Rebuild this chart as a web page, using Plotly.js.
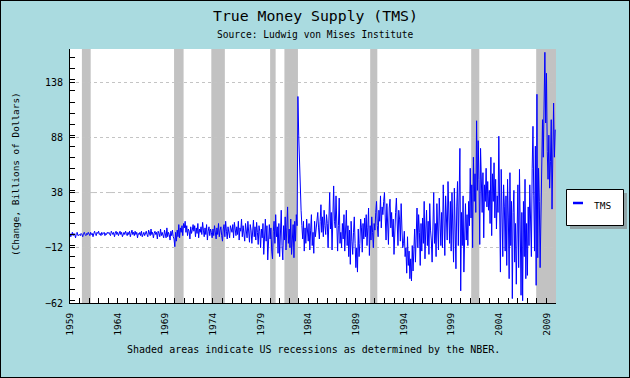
<!DOCTYPE html>
<html><head><meta charset="utf-8">
<script src="https://cdn.plot.ly/plotly-3.0.1.min.js"></script>
<style>
html,body{margin:0;padding:0;background:#aadbe0;}
#frame{width:630px;height:378px;box-sizing:border-box;border:1px solid #000;}
#chart{width:628px;height:376px;}
</style></head>
<body><div id="frame"><div id="chart"></div></div>
<script>
// ---- data (monthly change, billions of dollars), Jan 1959 .. Dec 2009 ----
const startYear = 1959;
const tms1959_1969 = [
  1,-2,0,2,-1,1,0,-3,1,2,-1,0,
  0,-1,1,0,-2,1,2,0,-1,1,0,2,
  1,-1,2,0,1,-2,1,3,0,-1,2,1,
  3,0,1,-1,2,0,1,2,-1,1,0,2,
  1,2,0,-1,3,1,0,2,-2,1,3,0,
  2,-1,1,3,0,2,-2,1,2,0,3,1,
  -1,2,0,3,-2,1,4,0,2,-1,3,0,
  2,-3,1,0,2,-1,3,-2,0,2,-1,1,
  3,0,-2,4,1,-1,5,0,2,-3,1,3,
  0,2,-4,3,1,-2,5,-1,2,0,-3,4,
  1,-3,6,-2,2,0,-5,3,-1,4,-2,-4
];
const tms1970_1982 = [
  -11,2,-6,4,-2,9,-3,6,2,8,-1,10,
  6,12,2,8,-1,5,3,-4,7,1,4,9,
  3,8,-2,6,1,10,-3,5,2,7,0,11,
  4,-2,6,0,9,-5,3,7,-1,5,2,-3,
  5,-1,8,2,-4,6,0,10,-2,4,7,-1,
  -6,5,9,-2,12,3,-4,7,1,-3,8,4,
  2,9,-3,11,4,-1,7,0,12,-5,6,3,
  14,-2,8,3,-6,10,5,-3,12,1,-7,9,
  4,-8,6,13,-2,7,-5,11,2,-9,8,3,
  -12,5,-3,10,-18,4,14,-6,8,-23,2,9,
  -4,6,-15,-22,3,12,-8,18,-2,7,-17,10,
  -20,4,22,-10,-23,8,-5,16,-14,6,25,-8,
  5,-12,14,-18,3,9,-21,12,-6,18,8,125
];
const tms1983_1995 = [
  90,58,45,22,8,-4,12,-15,6,-8,14,2,
  -6,10,-14,4,18,-10,2,-17,12,-2,8,15,
  20,6,-4,12,27,2,16,-2,22,8,0,18,
  10,-12,26,38,5,20,-14,30,44,12,6,35,
  14,-15,8,33,-8,2,-12,10,-4,18,-15,6,
  22,-10,8,-20,4,-27,12,-6,-18,2,16,-8,
  -30,-12,-34,5,-20,-8,14,6,-16,10,-4,15,
  -2,18,-10,6,24,-19,8,-5,16,2,-12,10,
  4,20,30,8,-2,22,12,35,6,25,18,30,
  38,15,-5,28,10,-9,24,32,6,20,-2,14,
  -18,8,20,33,2,-10,22,14,-6,28,5,-12,
  -8,3,-20,-12,-35,-2,-28,-15,-40,-22,-42,-10,
  -33,-18,5,-25,-6,24,-12,18,2,-28,10,-15
];
const tms1996_2009 = [
  15,-8,30,-22,5,22,-10,12,-18,28,4,-5,
  -25,18,38,-8,10,-20,28,5,-14,33,12,-10,
  20,-12,45,8,-19,35,15,-5,48,22,-8,30,
  -15,38,10,-25,42,5,-31,25,48,-10,35,78,
  -51,20,-10,35,-34,12,28,-5,18,-10,30,8,
  60,15,45,-12,70,30,55,20,103,40,85,50,
  -9,78,35,20,56,-3,45,30,60,25,48,22,
  40,10,70,-1,55,30,65,15,50,5,35,20,
  89,20,-34,59,10,-20,45,25,-15,35,-28,50,
  15,-40,56,-10,30,-58,20,40,-25,10,-45,35,
  45,-30,59,5,-55,20,-60,30,-20,50,-40,10,
  -37,25,-10,45,15,-20,60,98,35,-15,80,-46,
  127,-21,60,30,-30,20,45,104,70,130,165,101,
  146,75,50,90,42,66,104,23,100,119,70,95
];
const recessionStart = [1960.25, 1969.92, 1973.83, 1980.0, 1981.5, 1990.5, 2001.1, 2007.92];
const recessionEnd   = [1961.17, 1970.92, 1975.25, 1980.58, 1982.92, 1991.25, 2001.95, 2010.0];
const seriesName = "TMS";
const titleText = "True Money Supply (TMS)";
const subtitleText = "Source: Ludwig von Mises Institute";
const yTitleText = "(Change, Billions of Dollars)";
const noteText = "Shaded areas indicate US recessions as determined by the NBER.";

// ---- build ----
const tms = [].concat(tms1959_1969, tms1970_1982, tms1983_1995, tms1996_2009);
const xs = tms.map((_, i) => startYear + i / 12);

const F = "DejaVu Sans Mono, Liberation Mono, monospace";
// pixel -> paper conversion (page pixels; plot area 70..556 x 49..303)
const PL = 70, PR = 556, PT = 49, PB = 303;
const px = p => (p - PL) / (PR - PL);
const py = p => (PB - p) / (PB - PT);

const shapes = [];
shapes.push({type:'line', xref:'paper', yref:'y', x0:0, x1:1, y0:38, y1:38,
  line:{color:'#c4c4c4', width:1, dash:'dash'}, layer:'between'});
recessionStart.forEach((s, i) => {
  shapes.push({type:'rect', xref:'x', yref:'paper', x0:s, x1:recessionEnd[i], y0:0, y1:1,
    fillcolor:'#c2c2c2', line:{width:0}, layer:'between'});
});
// legend box with shadow
shapes.push({type:'rect', xref:'paper', yref:'paper', x0:px(570), x1:px(627), y0:py(229), y1:py(193),
  fillcolor:'#8fa3a6', line:{width:0}, layer:'above'});
shapes.push({type:'rect', xref:'paper', yref:'paper', x0:px(566.5), x1:px(623.5), y0:py(225.5), y1:py(189.5),
  fillcolor:'#ffffff', line:{color:'#000', width:1}, layer:'above'});
shapes.push({type:'line', xref:'paper', yref:'paper', x0:px(573), x1:px(583), y0:py(203), y1:py(203),
  line:{color:'#0000ff', width:2.5}, layer:'above'});

const annotations = [
  {text:titleText, xref:'paper', yref:'paper', x:px(315), y:py(15), showarrow:false,
   font:{family:F, size:14.8, color:'#000'}, xanchor:'center', yanchor:'middle'},
  {text:subtitleText, xref:'paper', yref:'paper', x:px(315), y:py(34), showarrow:false,
   font:{family:F, size:9.6, color:'#000'}, xanchor:'center', yanchor:'middle'},
  {text:yTitleText, xref:'paper', yref:'paper', x:px(15), y:py(174), showarrow:false, textangle:-90,
   font:{family:F, size:9.4, color:'#000'}, xanchor:'center', yanchor:'middle'},
  {text:noteText, xref:'paper', yref:'paper', x:px(313.5), y:py(349), showarrow:false,
   font:{family:F, size:10, color:'#000'}, xanchor:'center', yanchor:'middle'},
  {text:seriesName, xref:'paper', yref:'paper', x:px(592), y:py(205.5), showarrow:false,
   font:{family:F, size:9.5, color:'#000'}, xanchor:'left', yanchor:'middle'}
];

const trace = {x:xs, y:tms, type:'scatter', mode:'lines', name:seriesName,
  line:{color:'#0000ff', width:1}, hoverinfo:'skip'};

const layout = {
  width:628, height:376,
  margin:{l:69, r:73, t:48, b:74, pad:0},
  paper_bgcolor:'#aadbe0', plot_bgcolor:'#ffffff',
  showlegend:false,
  font:{family:F, color:'#000'},
  xaxis:{range:[1959, 2010], tick0:1959, dtick:5, ticks:'inside', ticklen:5, tickcolor:'#000',
    tickangle:-90, tickfont:{family:F, size:9.5, color:'#000'}, showgrid:false, zeroline:false,
    showline:true, linecolor:'#000', linewidth:1, mirror:false, ticklabelstandoff:5,
    minor:{dtick:1, ticks:'inside', ticklen:5, tickcolor:'#000', showgrid:false}},
  yaxis:{range:[-62, 168], tick0:-62, dtick:50, ticks:'inside', ticklen:5, tickcolor:'#000',
    tickfont:{family:F, size:10, color:'#000'}, showgrid:true, gridcolor:'#c4c4c4', griddash:'dot',
    gridwidth:1, zeroline:false, showline:true, linecolor:'#000', linewidth:1, mirror:false,
    ticklabelstandoff:4,
    minor:{dtick:10, ticks:'inside', ticklen:5, tickcolor:'#000', showgrid:false}},
  shapes:shapes, annotations:annotations
};
Plotly.newPlot('chart', [trace], layout, {staticPlot:true, displayModeBar:false});
</script></body></html>
